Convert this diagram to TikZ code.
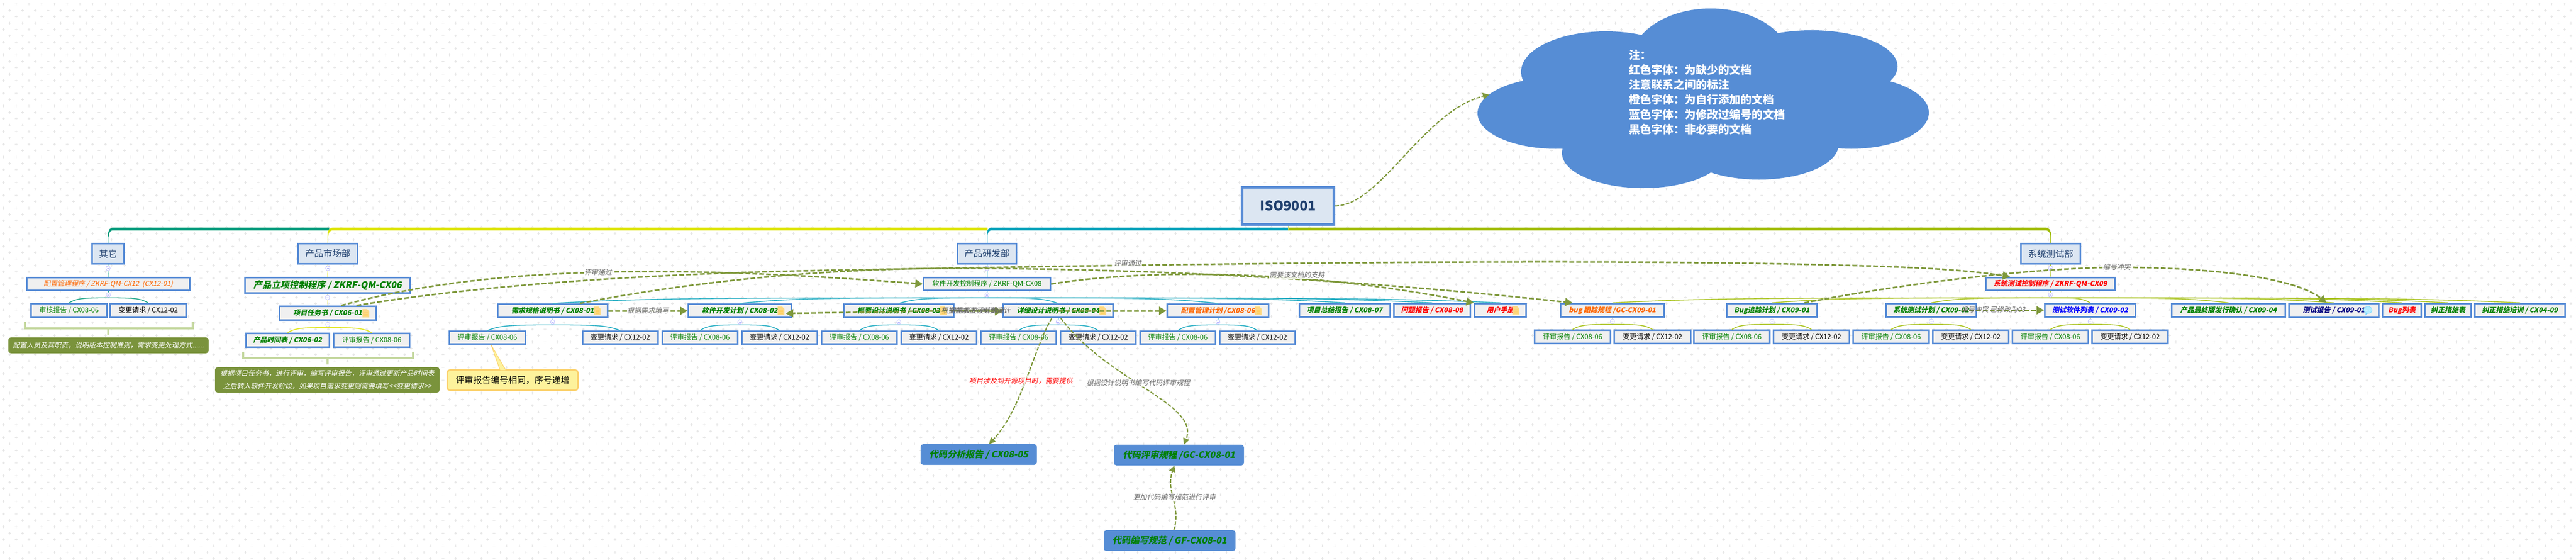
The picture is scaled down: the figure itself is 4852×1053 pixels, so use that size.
\documentclass[tikz,border=0pt]{standalone}
\usepackage{fontspec}
\usetikzlibrary{arrows.meta,calc}
\setmainfont{Noto Sans CJK SC}
\newfontfamily\slfam{Noto Sans CJK SC}[UprightFeatures={FakeSlant=0.2},BoldFeatures={FakeSlant=0.2}]
\definecolor{boxblue}{HTML}{568BD6}
\definecolor{boxgrey}{HTML}{F0F0F0}
\definecolor{headfill}{HTML}{DCE6F2}
\definecolor{headtext}{HTML}{1F3F6E}
\definecolor{docgreen}{HTML}{008000}
\definecolor{docorange}{HTML}{FF6600}
\definecolor{linkolive}{HTML}{7F993C}
\definecolor{notegreen}{HTML}{7A933C}
\definecolor{bracketgreen}{HTML}{C5D8A0}
\definecolor{brgreen}{HTML}{00997A}
\definecolor{brgreenL}{HTML}{70C8B0}
\definecolor{bryellow}{HTML}{DDE400}
\definecolor{bryellowL}{HTML}{EEF070}
\definecolor{brteal}{HTML}{00A0B9}
\definecolor{brtealL}{HTML}{80D0DC}
\definecolor{brolive}{HTML}{9FBB00}
\definecolor{broliveL}{HTML}{C8DA70}
\definecolor{cloudblue}{HTML}{568DD5}
\definecolor{callfill}{HTML}{FDF29C}
\definecolor{calledge}{HTML}{FBD26E}
\tikzset{
  x=1pt,y=-1pt,
  leaf/.style={draw=boxblue,fill=boxgrey,line width=3pt,inner sep=0pt,font=\fontsize{13}{16}\selectfont,text=black},
  gleaf/.style={leaf,text=docgreen},
  main/.style={leaf,text=docgreen,font=\slfam\bfseries\fontsize{13}{16}\selectfont},
  bigmain/.style={main,font=\slfam\bfseries\fontsize{17}{20}\selectfont},
  head/.style={leaf,fill=headfill,text=headtext,font=\fontsize{17}{20}\selectfont},
  code/.style={fill=cloudblue,rounded corners=5pt,inner sep=0pt,text=docgreen,font=\slfam\bfseries\fontsize{17}{20}\selectfont},
  note/.style={fill=notegreen,rounded corners=5pt,inner sep=0pt,text=white,align=center,font=\slfam\fontsize{13}{24}\selectfont},
  link/.style={draw=linkolive,line width=3pt,dash pattern=on 9pt off 4pt,-{Triangle[length=14pt,width=15pt,fill=linkolive]}},
  thinlink/.style={link,line width=2.2pt,dash pattern=on 7pt off 3pt,-{Triangle[length=12pt,width=12pt,fill=linkolive]}},
  lab/.style={inner sep=1pt,fill=white,fill opacity=.8,text opacity=1,text=black!60,font=\slfam\fontsize{13}{16}\selectfont},
  labn/.style={lab,fill=none},
  brack/.style={draw=bracketgreen,line width=4pt},
  btn/.style={draw=blue!25!white,fill=white,line width=.8pt},
  docicon/.pic={
    \fill[yellow!35!orange!45!white,draw=orange!50!yellow!50!white,line width=.8pt] (-6,-7.5)--(2,-7.5)--(6,-3.5)--(6,7.5)--(-6,7.5)--cycle;
    \draw[orange!60!yellow!60!white,line width=1.2pt] (-3.5,-1)--(3.5,-1) (-3.5,2)--(3.5,2) (-3.5,5)--(3.5,5);
  },
  bubbleicon/.pic={
    \fill[blue!25!cyan!30!white,draw=blue!30!cyan!50!white,line width=.8pt] (0,-1) ellipse [x radius=8pt,y radius=6.5pt];
    \fill[blue!30!cyan!50!white] (-4,4)--(-5,9)--(0,5)--cycle;
    \fill[white] (-3.5,-1) circle (1pt) (0,-1) circle (1pt) (3.5,-1) circle (1pt);
  }
}
\newcommand\bx[7][leaf]{%
  \pgfmathsetmacro\bxcx{(#3+#5)/2}\pgfmathsetmacro\bxcy{(#4+#6)/2}%
  \pgfmathsetmacro\bxw{#5-#3-3}\pgfmathsetmacro\bxh{#6-#4-3}%
  \node[#1,minimum width=\bxw pt,minimum height=\bxh pt] (#2) at (\bxcx,\bxcy) {#7};}
\newcommand\sbx[7][code]{%
  \pgfmathsetmacro\bxcx{(#3+#5)/2}\pgfmathsetmacro\bxcy{(#4+#6)/2}%
  \pgfmathsetmacro\bxw{#5-#3}\pgfmathsetmacro\bxh{#6-#4}%
  \node[#1,minimum width=\bxw pt,minimum height=\bxh pt] (#2) at (\bxcx,\bxcy) {#7};}
% arch from below a parent to the top of a child
\newcommand\arch[3]{%
  \draw[#3L,line width=1.8pt] let \p1=([yshift=-12.5pt]#1.south),\p2=(#2.north) in
    (\p1) .. controls ({\x1+0.65*(\x2-\x1)},\y1) and ({\x2-0.2*(\x2-\x1)},{\y1-1pt}) .. (\p2);
  \draw[#3,line width=.8pt] let \p1=([yshift=-12.5pt]#1.south),\p2=(#2.north) in
    (\p1) .. controls ({\x1+0.65*(\x2-\x1)},\y1) and ({\x2-0.2*(\x2-\x1)},{\y1-1pt}) .. (\p2);}
\newcommand\stem[3]{\draw[#3,line width=.8pt] (#1.south) -- ([yshift=-12.5pt]#1.south);}
\newcommand\onestem[3]{\draw[#3,line width=.8pt] (#1.south) -- (#2.north);}
\newcommand\btnat[1]{%
  \draw[btn] ([yshift=-7pt]#1.south) ellipse [x radius=4pt,y radius=4.5pt];
  \draw[blue!40!white,line width=.6pt] ([xshift=-2pt,yshift=-7pt]#1.south) -- ([xshift=2pt,yshift=-7pt]#1.south);}
\begin{document}
\begin{tikzpicture}
\useasboundingbox (0,0) rectangle (4852,1053);
\fill[white] (0,0) rectangle (4852,1053);
% background crosses
\foreach \k in {0,...,87}{
  \pgfmathsetmacro\rowy{7+12*\k}
  \pgfmathsetmacro\rowx{mod(\k,2)*12}
  \draw[black!11,line width=1pt,dash pattern=on 5pt off 19pt] (3.5+\rowx,\rowy) -- (4852,\rowy);
  \draw[black!11,line width=5pt,dash pattern=on 1pt off 23pt] (5.5+\rowx,\rowy) -- (4852,\rowy);
}
% cloud
\fill[cloudblue]
  (3222,116) ellipse [x radius=150pt,y radius=100pt]
  (3025,135) ellipse [x radius=160pt,y radius=76pt]
  (3412,125) ellipse [x radius=162pt,y radius=68pt]
  (2930,213) ellipse [x radius=147pt,y radius=67pt]
  (3487,212) ellipse [x radius=146pt,y radius=68pt]
  (3095,288) ellipse [x radius=153pt,y radius=66pt]
  (3313,272) ellipse [x radius=150pt,y radius=66pt]
  (3210,200) ellipse [x radius=300pt,y radius=120pt];
\node[anchor=north west,inner sep=0pt,align=left,text=white,font=\bfseries\fontsize{21}{28}\selectfont] (cloudtext) at (3068,93) {注：\\红色字体：为缺少的文档\\注意联系之间的标注\\橙色字体：为自行添加的文档\\蓝色字体：为修改过编号的文档\\黑色字体：非必要的文档};
\coordinate (cloudin) at (2805,178);
% heads
\bx[head,line width=5pt]{iso}{2338}{351}{2514}{424}{\bfseries\fontsize{25}{28}\selectfont ISO9001}
\bx[head]{hother}{172}{457}{235}{498}{其它}
\bx[head]{hmarket}{560}{457}{675}{498}{产品市场部}
\bx[head]{hdev}{1802}{457}{1916}{498}{产品研发部}
\bx[head]{htest}{3805}{457}{3920}{498}{系统测试部}
% other
\bx[leaf,text=docorange,font=\slfam\fontsize{13}{16}\selectfont]{cm}{49}{521}{359}{548}{配置管理程序 / ZKRF-QM-CX12 \ (CX12-01)}
\bx[gleaf]{omrev}{57}{570}{203}{599}{审核报告 / CX08-06}
\bx{omchg}{206}{570}{352}{599}{变更请求 / CX12-02}
% market
\bx[bigmain]{mprog}{460}{521}{774}{553}{产品立项控制程序 / ZKRF-QM-CX06}
\bx[main]{task}{525}{575}{710}{604}{项目任务书 / CX06-01\hspace{21pt}}
\bx[main]{sched}{461.5}{626}{622}{655}{产品时间表 / CX06-02}
\bx[gleaf]{mrev}{627}{626}{773}{655}{评审报告 / CX08-06}
% development
\bx[gleaf]{dprog}{1738}{521}{1980}{548}{软件开发控制程序 / ZKRF-QM-CX08}
\bx[main]{req}{936}{571}{1146}{599}{需求规格说明书 / CX08-01\hspace{25pt}}
\bx[main]{plan}{1295}{571}{1492}{599}{软件开发计划 / CX08-02\hspace{25pt}}
\bx[main]{hld}{1588}{571}{1798}{599}{概要设计说明书 / CX08-03\hspace{25pt}}
\bx[main]{lld}{1888}{571}{2098}{599}{详细设计说明书 / CX08-04\hspace{25pt}}
\bx[main,text=docorange]{cmplan}{2197}{571}{2391}{599}{配置管理计划 /CX08-06\hspace{25pt}}
\bx[main]{sum}{2445.5}{570}{2620}{598}{项目总结报告 / CX08-07}
\bx[main,text=red]{prob}{2624}{570}{2771}{598}{问题报告 / CX08-08}
\bx[main,text=red]{manual}{2776}{570}{2876}{598}{用户手册\hspace{25pt}}
\bx[gleaf]{r1}{845}{622}{991}{649}{评审报告 / CX08-06}
\bx{c1}{1095.5}{622}{1241}{649}{变更请求 / CX12-02}
\bx[gleaf]{r2}{1246}{622}{1391}{649}{评审报告 / CX08-06}
\bx{c2}{1395.5}{622}{1541}{649}{变更请求 / CX12-02}
\bx[gleaf]{r3}{1546}{622}{1691}{649}{评审报告 / CX08-06}
\bx{c3}{1696}{622}{1841}{649}{变更请求 / CX12-02}
\bx[gleaf]{r4}{1846}{622}{1991}{649}{评审报告 / CX08-06}
\bx{c4}{1996}{622}{2141}{649}{变更请求 / CX12-02}
\bx[gleaf]{r5}{2146}{622}{2291}{649}{评审报告 / CX08-06}
\bx{c5}{2295.5}{622}{2441}{649}{变更请求 / CX12-02}
% test
\bx[main,text=red]{tprog}{3739}{521}{3985}{548}{系统测试控制程序 / ZKRF-QM-CX09}
\bx[main,text=docorange]{bug}{2938}{570}{3136}{598}{bug 跟踪规程 /GC-CX09-01}
\bx[main]{bugplan}{3251}{570}{3424}{598}{Bug追踪计划 / CX09-01}
\bx[main]{sysplan}{3551}{570}{3724}{598}{系统测试计划 / CX09-02}
\bx[main,text=blue]{soft}{3850}{570}{4024}{598}{测试软件列表 / CX09-02}
\bx[main]{final}{4089}{570}{4306}{598}{产品最终版发行确认 / CX09-04}
\bx[main,text=blue!50!black]{report}{4310}{570}{4482}{599}{测试报告 / CX09-01\hspace{24pt}}
\bx[main,text=red]{buglist}{4486}{570}{4562}{598}{Bug列表}
\bx[main]{fix}{4566}{570}{4656}{598}{纠正措施表}
\bx[main]{train}{4660}{570}{4833}{598}{纠正措施培训 / CX04-09}
\bx[gleaf]{r6}{2889}{620}{3035}{648}{评审报告 / CX08-06}
\bx{c6}{3039}{620}{3186}{648}{变更请求 / CX12-02}
\bx[gleaf]{r7}{3189}{620}{3335}{648}{评审报告 / CX08-06}
\bx{c7}{3339}{620}{3485}{648}{变更请求 / CX12-02}
\bx[gleaf]{r8}{3489}{620}{3635}{648}{评审报告 / CX08-06}
\bx{c8}{3639}{620}{3785}{648}{变更请求 / CX12-02}
\bx[gleaf]{r9}{3789}{620}{3935}{648}{评审报告 / CX08-06}
\bx{c9}{3939}{620}{4085}{648}{变更请求 / CX12-02}
% code nodes
\sbx{analysis}{1734}{836}{1953}{875}{代码分析报告 / CX08-05}
\sbx{review}{2098}{837}{2343}{876}{代码评审规程 /GC-CX08-01}
\sbx{codestd}{2079}{998}{2327}{1037}{代码编写规范 / GF-CX08-01}
% notes
\sbx[note]{note1}{15.5}{635}{393}{665}{配置人员及其职责，说明版本控制准则，需求变更处理方式......}
\sbx[note]{note2}{405}{691}{828}{739}{根据项目任务书，进行评审，编写评审报告，评审通过更新产品时间表\\之后转入软件开发阶段，如果项目需求变更则需要填写<<变更请求>>}
% yellow callout
\bx[leaf,draw=calledge,fill=callfill,rounded corners=5pt,font=\fontsize{16.5}{20}\selectfont]{callout}{841}{695}{1090}{736}{评审报告编号相同，序号递增}
\path[fill=callfill,draw=calledge,line width=1pt] ([xshift=-66pt]r1.south east) -- ([xshift=-137pt,yshift=-2pt]callout.north east) -- ([xshift=-148pt,yshift=-2pt]callout.north east) -- cycle;
% trunk bars
\fill[brgreenL] (204,445) .. controls (204,431) and (206,428) .. (216,428) -- (620,428) -- (620,434) -- (214,434) .. controls (207,434) and (205.5,437) .. (204.6,445) -- cycle;
\fill[brgreen] (204,445) .. controls (204,431) and (206,429) .. (216,429) -- (620,429) -- (620,433) -- (214,433) .. controls (207,433) and (205.5,437) .. (204.6,445) -- cycle;
\fill[bryellowL] (617.5,445) .. controls (617.5,431) and (620,428) .. (630,428) -- (1860,428) -- (1860,434) -- (628,434) .. controls (621,434) and (619,437) .. (618.1,445) -- cycle;
\fill[bryellow] (617.5,445) .. controls (617.5,431) and (620,429) .. (630,429) -- (1860,429) -- (1860,433) -- (628,433) .. controls (621,433) and (619,437) .. (618.1,445) -- cycle;
\fill[brtealL] (1859,445) .. controls (1859,431) and (1861,428) .. (1871,428) -- (2426,428) -- (2426,434) -- (1869,434) .. controls (1862,434) and (1860.5,437) .. (1859.6,445) -- cycle;
\fill[brteal] (1859,445) .. controls (1859,431) and (1861,429) .. (1871,429) -- (2426,429) -- (2426,433) -- (1869,433) .. controls (1862,433) and (1860.5,437) .. (1859.6,445) -- cycle;
\fill[broliveL] (3862.5,445) .. controls (3862.5,431) and (3860.5,428) .. (3850,428) -- (2426,428) -- (2426,434) -- (3852,434) .. controls (3859,434) and (3861,437) .. (3862,445) -- cycle;
\fill[brolive] (3862.5,445) .. controls (3862.5,431) and (3860.5,429) .. (3850,429) -- (2426,429) -- (2426,433) -- (3852,433) .. controls (3859,433) and (3861,437) .. (3862,445) -- cycle;
\draw[broliveL,line width=.8pt] (iso.south) -- ++(0,7);
\draw[brgreen,line width=.8pt] (hother.north) -- ++(0,-20);
\draw[bryellow,line width=.8pt] (hmarket.north) -- ++(0,-20);
\draw[brteal,line width=.8pt] (hdev.north) -- ++(0,-20);
\draw[brolive,line width=.8pt] (htest.north) -- ++(0,-20);
% tree
\onestem{hother}{cm}{brgreen}\onestem{hmarket}{mprog}{bryellow}\onestem{hdev}{dprog}{brteal}\onestem{htest}{tprog}{brolive}
\onestem{mprog}{task}{bryellow}
\stem{cm}{}{brgreen}\stem{task}{}{bryellow}\stem{dprog}{}{brteal}\stem{tprog}{}{brolive}
\stem{req}{}{brteal}\stem{plan}{}{brteal}\stem{hld}{}{brteal}\stem{lld}{}{brteal}\stem{cmplan}{}{brteal}
\stem{bug}{}{brolive}\stem{bugplan}{}{brolive}\stem{sysplan}{}{brolive}\stem{soft}{}{brolive}
\arch{cm}{omrev}{brgreen}\arch{cm}{omchg}{brgreen}
\arch{task}{sched}{bryellow}\arch{task}{mrev}{bryellow}
\foreach \c in {req,plan,hld,lld,cmplan,sum,prob,manual}{\arch{dprog}{\c}{brteal}}
\foreach \c in {bug,bugplan,sysplan,soft,final,report,buglist,fix,train}{\arch{tprog}{\c}{brolive}}
\arch{req}{r1}{brteal}\arch{req}{c1}{brteal}
\arch{plan}{r2}{brteal}\arch{plan}{c2}{brteal}
\arch{hld}{r3}{brteal}\arch{hld}{c3}{brteal}
\arch{lld}{r4}{brteal}\arch{lld}{c4}{brteal}
\arch{cmplan}{r5}{brteal}\arch{cmplan}{c5}{brteal}
\arch{bug}{r6}{brolive}\arch{bug}{c6}{brolive}
\arch{bugplan}{r7}{brolive}\arch{bugplan}{c7}{brolive}
\arch{sysplan}{r8}{brolive}\arch{sysplan}{c8}{brolive}
\arch{soft}{r9}{brolive}\arch{soft}{c9}{brolive}
\foreach \n in {hother,hmarket,hdev,htest,cm,mprog,task,dprog,tprog,req,plan,hld,lld,cmplan,bug,bugplan,sysplan,soft}{\btnat{\n}}
% icons
\foreach \n in {task,req,plan,hld,lld,cmplan,manual}{\pic at ([xshift=-21pt]\n.east) {docicon};}
\pic at ([xshift=-22pt]report.east) {bubbleicon};
% brackets
\draw[brack] ([xshift=31.5pt,yshift=29pt]note1.north west) -- ([xshift=31.5pt,yshift=17pt]note1.north west) -- ([xshift=-30pt,yshift=17pt]note1.north east) -- ([xshift=-30pt,yshift=29pt]note1.north east);
\draw[brack] ([yshift=5pt]note1.north) -- ([yshift=17pt]note1.north);
\draw[brack] ([xshift=53pt,yshift=29pt]note2.north west) -- ([xshift=53pt,yshift=17pt]note2.north west) -- ([xshift=-50pt,yshift=17pt]note2.north east) -- ([xshift=-50pt,yshift=29pt]note2.north east);
\draw[brack] ([yshift=5pt]note2.north) -- ([yshift=17pt]note2.north);
% connectors
\draw[thinlink] (iso.east) .. controls (2600,387) and (2680,210) .. (cloudin);
\draw[link] ([xshift=25pt]task.north) .. controls (950,490) and (1350,505) .. (dprog.west) node[lab,pos=.47] (l1) {评审通过};
\draw[link] ([xshift=54pt]task.north) .. controls (850,545) and (1150,515) .. (1600,508) .. controls (2200,497) and (3000,485) .. (3500,500) .. controls (3600,503) and (3700,507) .. ([xshift=-76pt]tprog.north);
\node[lab] (l2) at (2124,495) {评审通过};
\draw[link] ([xshift=51pt]req.north) .. controls (1250,540) and (1500,505) .. (1800,505) .. controls (2100,505) and (2500,520) .. ([xshift=-75pt]bug.north);
\draw[link] (dprog.east) .. controls (2150,507) and (2450,505) .. (manual.north west);
\node[lab] (l3) at (2443,518) {需要该文档的支持};
\draw[link] (req.east) -- (plan.west) node[lab,midway] (l4) {根据需求填写};
\draw[link] ([yshift=2pt]lld.west) -- ([xshift=-12pt,yshift=-5pt]plan.east);
\draw[link] (hld.east) -- ([yshift=-1pt]lld.west);
\node[labn] (l5) at (1840,585) {根据概要设计编写};
\node[labn] (l6) at (1838,585) {根据需求进行概要设计};
\draw[link] (lld.center) -- (cmplan.west);
\draw[link] ([xshift=-28pt]sysplan.east) -- (soft.west);
\node[labn] (l7) at (3754,583) {编号冲突 已修改为03};
\draw[link] ([xshift=61pt]bugplan.north) .. controls (3550,540) and (3800,505) .. (3987,503) .. controls (4150,503) and (4320,520) .. ([xshift=-14pt]report.north);
\node[lab] (l8) at (3987,503) {编号冲突};
\draw[thinlink] ([xshift=-117pt]lld.south east) .. controls (1945,660) and (1925,770) .. ([xshift=129pt]analysis.north west);
\node[lab,text=red] (l9) at (1923,717) {项目涉及到开源项目时，需要提供};
\draw[thinlink] ([xshift=-100pt]lld.south east) .. controls (2090,720) and (2260,760) .. ([xshift=9.5pt]review.north);
\node[lab] (l10) at (2144,721) {根据设计说明书编写代码评审规程};
\draw[thinlink] ([xshift=8pt]codestd.north) .. controls (2225,950) and (2195,925) .. ([xshift=-8.5pt]review.south);
\node[lab] (l11) at (2212,936) {更加代码编写规范进行评审};
\end{tikzpicture}
\end{document}
